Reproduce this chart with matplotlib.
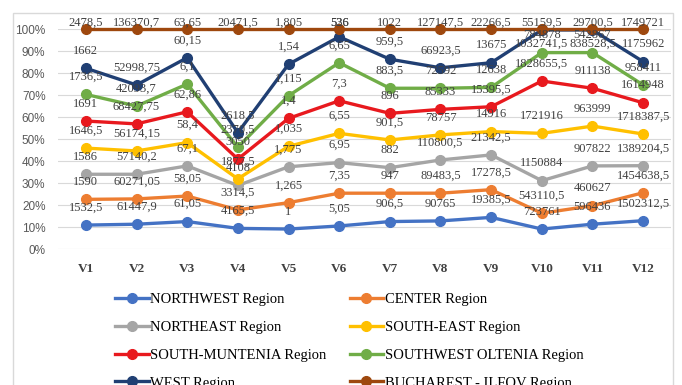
import matplotlib.pyplot as plt
from matplotlib.patches import Rectangle

cats = ["V1", "V2", "V3", "V4", "V5", "V6", "V7", "V8", "V9", "V10", "V11", "V12"]

names = ["NORTHWEST Region", "CENTER Region", "NORTHEAST Region", "SOUTH-EAST Region",
         "SOUTH-MUNTENIA Region", "SOUTHWEST OLTENIA Region", "WEST Region",
         "BUCHAREST - ILFOV Region"]

# cumulative share (%) of each region, stacked from the bottom
northwest = [11.0, 11.4, 12.6, 9.5, 9.2, 10.6, 12.6, 12.9, 14.5, 9.2, 11.4, 13.0]
center = [22.7, 22.9, 24.2, 17.9, 21.2, 25.5, 25.5, 25.5, 27.1, 16.4, 19.8, 25.7]
northeast = [34.1, 34.1, 37.9, 29.0, 37.5, 39.4, 37.1, 40.6, 42.9, 31.2, 37.9, 38.0]
southeast = [46.0, 44.7, 48.5, 32.0, 46.8, 52.7, 49.7, 52.0, 53.5, 52.7, 56.0, 52.4]
southmuntenia = [58.3, 57.0, 62.5, 41.0, 59.5, 67.5, 61.8, 63.6, 64.8, 76.5, 73.2, 66.6]
southwest = [70.4, 65.1, 75.1, 46.4, 69.8, 84.8, 73.2, 73.2, 73.6, 89.4, 89.4, 74.7]
west = [82.3, 74.7, 87.1, 53.0, 84.1, 96.6, 86.4, 82.5, 84.8, 99.7, 99.7, 85.3]
bucharest = [100] * 12

# point labels as printed on the chart
lab_nw = ["1532,5", "61447,9", "61,05", "4165,5", "1", "5,05", "906,5", "90765",
          "19385,5", "723761", "596436", "1502312,5"]
lab_c = ["1590", "60271,05", "58,05", "3314,5", "1,265", "7,35", "947", "89483,5",
         "17278,5", "543110,5", "460627", "1454638,5"]
lab_ne = ["1586", "57140,2", "67,1", "4108", "1,775", "6,95", "882", "110800,5",
          "21342,5", "1150884", "907822", "1389204,5"]
lab_se = ["1646,5", "56174,15", "58,4", "1877,5", "1,035", "6,55", "901,5", "78757",
          "14916", "1721916", "963999", "1718387,5"]
lab_sm = ["1691", "68427,75", "62,86", "3050", "1,4", "7,3", "896", "85333",
          "15395,5", "1828655,5", "911138", "1614948"]
lab_swo = ["1736,5", "42093,7", "6,1", "2370,5", "1,115", "6,65", "883,5", "72592",
           "12638", "1032741,5", "838528,5", "958411"]
lab_w = ["1662", "52998,75", "60,15", "2618,5", "1,54", "536", "959,5", "66923,5",
         "13675", "784878", "542867", "1175962"]
lab_b = ["2478,5", "136370,7", "63,65", "20471,5", "1,805", "526", "1022", "127147,5",
         "22266,5", "55159,5", "29700,5", "1749721"]

series = [northwest, center, northeast, southeast, southmuntenia, southwest, west, bucharest]
labels = [lab_nw, lab_c, lab_ne, lab_se, lab_sm, lab_swo, lab_w, lab_b]
colors = ["#4472C4", "#ED7D31", "#A5A5A5", "#FFC000", "#E8191E", "#70AD47", "#203F73", "#9E480E"]

serif = "Liberation Serif"
fig = plt.figure(figsize=(6.82, 3.85), dpi=100)
fig.patches.append(Rectangle((13 / 682, -0.1), 660 / 682, 1.1 - 13 / 385,
                             transform=fig.transFigure, fill=False,
                             edgecolor="#d9d9d9", linewidth=1))
ax = fig.add_axes([58 / 682, 0.3525, 613 / 682, 0.5714])

x = list(range(len(cats)))
handles = []
for k, (vals, labs, col) in enumerate(zip(series, labels, colors)):
    h, = ax.plot(x, vals, color=col, lw=2.4, marker="o", ms=7, zorder=3 + k,
                 label=names[k], clip_on=False)
    handles.append(h)
    for i, (v, t) in enumerate(zip(vals, labs)):
        ly = v + 7.9
        if k == 7:
            ly = 102.8
        elif k == 6 and v > 96:
            ly = 103 if i == 5 else 97.4
        elif k == 5 and v > 88:
            ly = 93.5
        ax.text(i, ly, t, ha="center", va="center", fontsize=9, family=serif,
                color="#404040", zorder=20)

ax.set_ylim(0, 100)
ax.set_xlim(-0.55, 11.55)
ax.set_yticks(range(0, 101, 10))
ax.set_yticklabels([f"{t}%" for t in range(0, 101, 10)], color="#595959", fontsize=8.5,
                   family="Liberation Sans")
ax.set_xticks(x)
ax.set_xticklabels(cats, family=serif, fontweight="bold", fontsize=9.5, color="#404040")
ax.tick_params(axis="both", length=0)
ax.tick_params(axis="x", pad=10)
ax.tick_params(axis="y", pad=9)
ax.grid(axis="y", color="#d9d9d9", lw=0.8)
ax.set_axisbelow(True)
for s in ax.spines.values():
    s.set_visible(False)

order = [0, 2, 4, 6, 1, 3, 5, 7]
fig.legend([handles[i] for i in order], [names[i] for i in order], ncol=2,
           loc="upper left", bbox_to_anchor=(115 / 682, 1 - 293 / 385), frameon=False,
           prop={"family": serif, "size": 10.5}, handlelength=2.3, handletextpad=0.1,
           labelspacing=1.0, columnspacing=1.6, borderpad=0, borderaxespad=0)

fig.savefig("out.png", dpi=100)
